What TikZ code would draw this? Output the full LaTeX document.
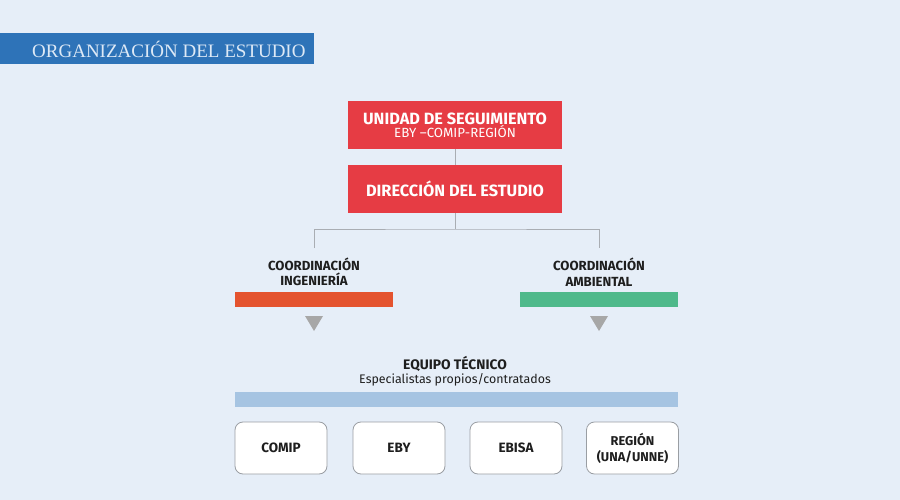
\documentclass[tikz,border=0pt]{standalone}
\usepackage{fontspec}
\setmainfont{Fira Sans}
\newfontfamily\titlefont{Liberation Serif}
\definecolor{bg}{HTML}{E6EEF8}
\definecolor{titlebar}{HTML}{2E73B8}
\definecolor{titletext}{HTML}{DDE9F6}
\definecolor{redbox}{HTML}{E63C44}
\definecolor{orangebar}{HTML}{E4532F}
\definecolor{greenbar}{HTML}{4FB98B}
\definecolor{bluebar}{HTML}{A6C4E2}
\definecolor{linegray}{HTML}{A9ADB3}
\definecolor{trigray}{HTML}{A7A7A7}
\definecolor{boxborder}{HTML}{9A9EA3}
\definecolor{darktext}{HTML}{1E1E1E}
\tikzset{
  redstep/.style={fill=redbox, minimum width=214pt, minimum height=48pt, inner sep=0pt, text=white, align=center},
  bar/.style={minimum height=15pt, inner sep=0pt},
  coordlabel/.style={font=\fontsize{13.2}{15.5}\selectfont\bfseries, align=center, text=darktext},
  wbox/.style={draw=boxborder, line width=0.8pt, fill=white, rounded corners=8pt, minimum width=92pt, minimum height=52pt, inner sep=0pt, align=center, text=darktext, font=\fontsize{13.5}{16}\selectfont\bfseries},
  conn/.style={draw=linegray, line width=1pt},
  tri/.style={fill=trigray, draw=none}
}
\begin{document}
\begin{tikzpicture}[x=1pt,y=-1pt]
\useasboundingbox (0,0) rectangle (900,500);
\fill[bg] (0,0) rectangle (900,500);
% title
\node[fill=titlebar, minimum width=314pt, minimum height=31pt, inner sep=0pt, anchor=north west] (titlebar) at (0,33) {};
\node[anchor=west, text=titletext, font=\titlefont\fontsize{19}{22}\selectfont, inner sep=0pt] (title) at (32,49) {ORGANIZACIÓN DEL ESTUDIO};
% red boxes
\node[redstep] (unidad) at (455,125) {{\fontsize{16.3}{18}\selectfont\bfseries UNIDAD DE SEGUIMIENTO}\\[0pt]{\fontsize{13.3}{14}\selectfont EBY –COMIP-REGIÓN}};
\node[redstep, font=\fontsize{16.3}{18}\selectfont\bfseries] (direccion) at (455,189) {DIRECCIÓN DEL ESTUDIO};
\draw[conn] (unidad.south) -- (direccion.north);
% branches
\coordinate (split) at (455,229);
\coordinate (lend) at (314,248);
\coordinate (rend) at (599,248);
\draw[conn] (direccion.south) -- (split);
\draw[conn] (lend) |- (split) -| (rend);
% coordination
\node[coordlabel] (ing) at (314,272) {COORDINACIÓN\\INGENIERÍA};
\node[coordlabel] (amb) at (599,272) {COORDINACIÓN\\AMBIENTAL};
\node[bar, fill=orangebar, minimum width=158pt] (obar) at (314,299.5) {};
\node[bar, fill=greenbar, minimum width=158pt] (gbar) at (599,299.5) {};
\coordinate (t1) at (314,323);
\coordinate (t2) at (599,323);
\fill[tri] ([xshift=-9pt,yshift=7pt]t1) -- ([xshift=9pt,yshift=7pt]t1) -- ([yshift=-8pt]t1) -- cycle;
\fill[tri] ([xshift=-9pt,yshift=7pt]t2) -- ([xshift=9pt,yshift=7pt]t2) -- ([yshift=-8pt]t2) -- cycle;
% equipo
\node[align=center, inner sep=0pt, text=darktext] (equipo) at (455,371) {{\fontsize{13.8}{15}\selectfont\bfseries EQUIPO TÉCNICO}\\[1pt]{\fontsize{12.4}{14}\selectfont Especialistas propios/contratados}};
\node[bar, fill=bluebar, minimum width=443pt] (bbar) at (456.5,399.5) {};
% white boxes
\node[wbox] (comip) at (281,448) {COMIP};
\node[wbox] (eby) at (399,448) {EBY};
\node[wbox] (ebisa) at (516,448) {EBISA};
\node[wbox, font=\fontsize{12.8}{16}\selectfont\bfseries] (region) at (632.5,448) {REGIÓN\\(UNA/UNNE)};
\end{tikzpicture}
\end{document}
